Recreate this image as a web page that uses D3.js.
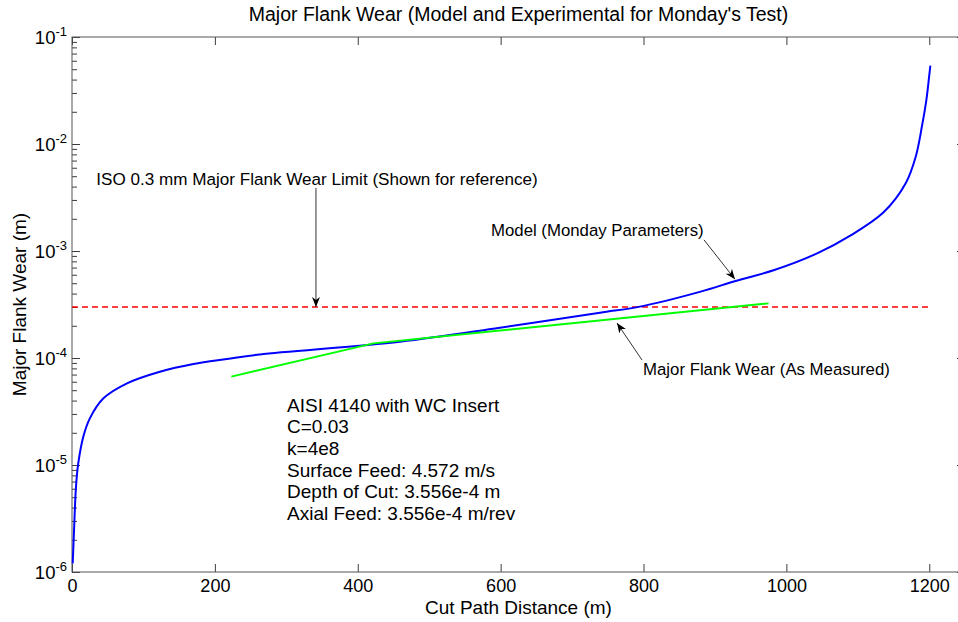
<!DOCTYPE html>
<html>
<head>
<meta charset="utf-8">
<script src="https://cdn.jsdelivr.net/npm/d3@7"></script>
<style>
  html, body { margin: 0; padding: 0; background: #fff; }
  svg { display: block; font-family: "Liberation Sans", Arial, Helvetica, sans-serif; }
</style>
</head>
<body>
<svg id="chart" width="958" height="622"></svg>
<script>
// Cut path distance (m) and modelled major flank wear (m), Monday parameters
const modelX = [1, 2.8, 5.6, 8.8, 15.8, 25, 44, 77, 123, 170, 217, 263, 459, 599, 739, 795, 880, 929, 982, 1043, 1090, 1136, 1167, 1181, 1190, 1196, 1200, 1201.5];
const modelY = [1.2e-6, 2.4e-6, 6.3e-6, 1.04e-5, 1.84e-5, 2.73e-5, 4.2e-5, 5.8e-5, 7.45e-5, 8.8e-5, 9.8e-5, 1.08e-4, 1.42e-4, 1.92e-4, 2.65e-4, 3.02e-4, 4.17e-4, 5.25e-4, 6.6e-4, 9.5e-4, 1.4e-3, 2.3e-3, 4.3e-3, 7.6e-3, 1.5e-2, 2.6e-2, 4.4e-2, 5.4e-2];

// Measured major flank wear (m)
const measuredX = [223, 422, 975];
const measuredY = [6.7e-5, 1.37e-4, 3.24e-4];

// ISO 0.3 mm wear limit
const limitX = [0, 1200];
const limitY = [3e-4, 3e-4];

// Axis ticks
const xTicks = [0, 200, 400, 600, 800, 1000, 1200];
const yTicks = [1e-6, 1e-5, 1e-4, 1e-3, 1e-2, 1e-1];

// Cutting conditions note
const noteLines = [
  "AISI 4140 with WC Insert",
  "C=0.03",
  "k=4e8",
  "Surface Feed: 4.572 m/s",
  "Depth of Cut: 3.556e-4 m",
  "Axial Feed: 3.556e-4 m/rev"
];

const L = 72, T = 37, R = 965, B = 572;

const svg = d3.select("#chart");

const x = d3.scaleLinear().domain([0, 1250]).range([L, R]);
const y = d3.scaleLog().domain([1e-6, 1e-1]).range([B, T]);

const axisColor = "#3c3c3c";
const majorLen = 8, minorLen = 5;
const minorTicks = y.ticks().filter(v => !yTicks.some(t => Math.abs(v / t - 1) < 1e-9));

function styleAxis(g) {
  g.attr("font-family", null).attr("font-size", null);
  g.select(".domain").remove();
  g.selectAll(".tick line").attr("stroke", axisColor).attr("stroke-width", 1);
}

// Bottom axis with labels
const gx = svg.append("g")
  .attr("transform", `translate(0,${B})`)
  .call(d3.axisBottom(x).tickValues(xTicks).tickSizeInner(-majorLen).tickSizeOuter(0)
    .tickPadding(7).tickFormat(d3.format("d")));
styleAxis(gx);
gx.selectAll("text").attr("fill", "#000").style("font-size", "18px");

// Top axis (ticks only)
const gxt = svg.append("g")
  .attr("transform", `translate(0,${T})`)
  .call(d3.axisTop(x).tickValues(xTicks).tickSizeInner(-majorLen).tickSizeOuter(0).tickFormat(""));
styleAxis(gxt);

// Left axis: decades with labels, then minor ticks
const gy = svg.append("g")
  .attr("transform", `translate(${L},0)`)
  .call(d3.axisLeft(y).tickValues(yTicks).tickSizeInner(-majorLen).tickSizeOuter(0)
    .tickPadding(5).tickFormat(() => ""));
styleAxis(gy);
gy.selectAll("text").each(function(d) {
  const t = d3.select(this).attr("fill", "#000").style("font-size", "18.5px").attr("dy", "0.36em");
  t.text("10");
  t.append("tspan").attr("dy", "-0.65em").style("font-size", "13px").text(Math.round(Math.log10(d)));
});

const gyMinor = svg.append("g")
  .attr("transform", `translate(${L},0)`)
  .call(d3.axisLeft(y).tickValues(minorTicks).tickSizeInner(-minorLen).tickSizeOuter(0).tickFormat(""));
styleAxis(gyMinor);

// Right axis (ticks only)
const gyr = svg.append("g")
  .attr("transform", `translate(${R},0)`)
  .call(d3.axisRight(y).tickValues(yTicks).tickSizeInner(-majorLen).tickSizeOuter(0).tickFormat(""));
styleAxis(gyr);
const gyrMinor = svg.append("g")
  .attr("transform", `translate(${R},0)`)
  .call(d3.axisRight(y).tickValues(minorTicks).tickSizeInner(-minorLen).tickSizeOuter(0).tickFormat(""));
styleAxis(gyrMinor);

// Axes box
svg.append("rect")
  .attr("x", L).attr("y", T).attr("width", R - L).attr("height", B - T)
  .attr("fill", "none").attr("stroke", "#555").attr("stroke-width", 1);

// Lines
const straight = d3.line().x(d => x(d[0])).y(d => y(d[1]));
const smooth = d3.line().x(d => x(d[0])).y(d => y(d[1])).curve(d3.curveCatmullRom.alpha(0.5));

svg.append("path")
  .datum(limitX.map((v, i) => [v, limitY[i]]))
  .attr("d", straight)
  .attr("fill", "none").attr("stroke", "#ff0000").attr("stroke-width", 1.6)
  .attr("stroke-dasharray", "6,4");

svg.append("path")
  .datum(modelX.map((v, i) => [v, modelY[i]]))
  .attr("d", smooth)
  .attr("fill", "none").attr("stroke", "#0000ff").attr("stroke-width", 2);

svg.append("path")
  .datum(measuredX.map((v, i) => [v, measuredY[i]]))
  .attr("d", straight)
  .attr("fill", "none").attr("stroke", "#00ff00").attr("stroke-width", 2);

// Title and axis labels
svg.append("text")
  .attr("x", (L + R) / 2).attr("y", 21)
  .attr("text-anchor", "middle")
  .style("font-size", "19.5px")
  .text("Major Flank Wear (Model and Experimental for Monday's Test)");

svg.append("text")
  .attr("x", (L + R) / 2).attr("y", 614)
  .attr("text-anchor", "middle")
  .style("font-size", "19px")
  .text("Cut Path Distance (m)");

svg.append("text")
  .attr("transform", `translate(26,${(T + B) / 2}) rotate(-90)`)
  .attr("text-anchor", "middle")
  .style("font-size", "19px")
  .text("Major Flank Wear (m)");

// Arrow annotations (positions in data units)
const defs = svg.append("defs");
defs.append("marker")
  .attr("id", "head")
  .attr("viewBox", "0 0 10 10")
  .attr("refX", 10).attr("refY", 5)
  .attr("markerWidth", 10).attr("markerHeight", 10)
  .attr("markerUnits", "userSpaceOnUse")
  .attr("orient", "auto")
  .append("path")
  .attr("d", "M0,1 L10,5 L0,9 L3,5 Z")
  .attr("fill", "#000");

const annotations = [
  { text: "ISO 0.3 mm Major Flank Wear Limit (Shown for reference)", size: 17.1, tx: 34, ty: 4.14e-3,
    from: [341.5, 3.88e-3], to: [341.5, 3.0e-4] },
  { text: "Model (Monday Parameters)", size: 16.8, tx: 586.5, ty: 1.38e-3,
    from: [884.7, 1.27e-3], to: [928, 5.45e-4] },
  { text: "Major Flank Wear (As Measured)", size: 16.8, tx: 799.3, ty: 6.93e-5,
    from: [797.9, 9.57e-5], to: [762.9, 2.12e-4] }
];

annotations.forEach(a => {
  svg.append("line")
    .attr("x1", x(a.from[0])).attr("y1", y(a.from[1]))
    .attr("x2", x(a.to[0])).attr("y2", y(a.to[1]))
    .attr("stroke", "#333").attr("stroke-width", 1)
    .attr("marker-end", "url(#head)");
  svg.append("text")
    .attr("x", x(a.tx)).attr("y", y(a.ty))
    .style("font-size", a.size + "px")
    .text(a.text);
});

// Cutting conditions text block
const note = svg.append("text")
  .attr("x", x(301)).attr("y", y(3.15e-5))
  .style("font-size", "19px");
noteLines.forEach((s, i) => {
  note.append("tspan")
    .attr("x", x(301))
    .attr("dy", i === 0 ? 0 : 21.7)
    .text(s);
});
</script>
</body>
</html>
